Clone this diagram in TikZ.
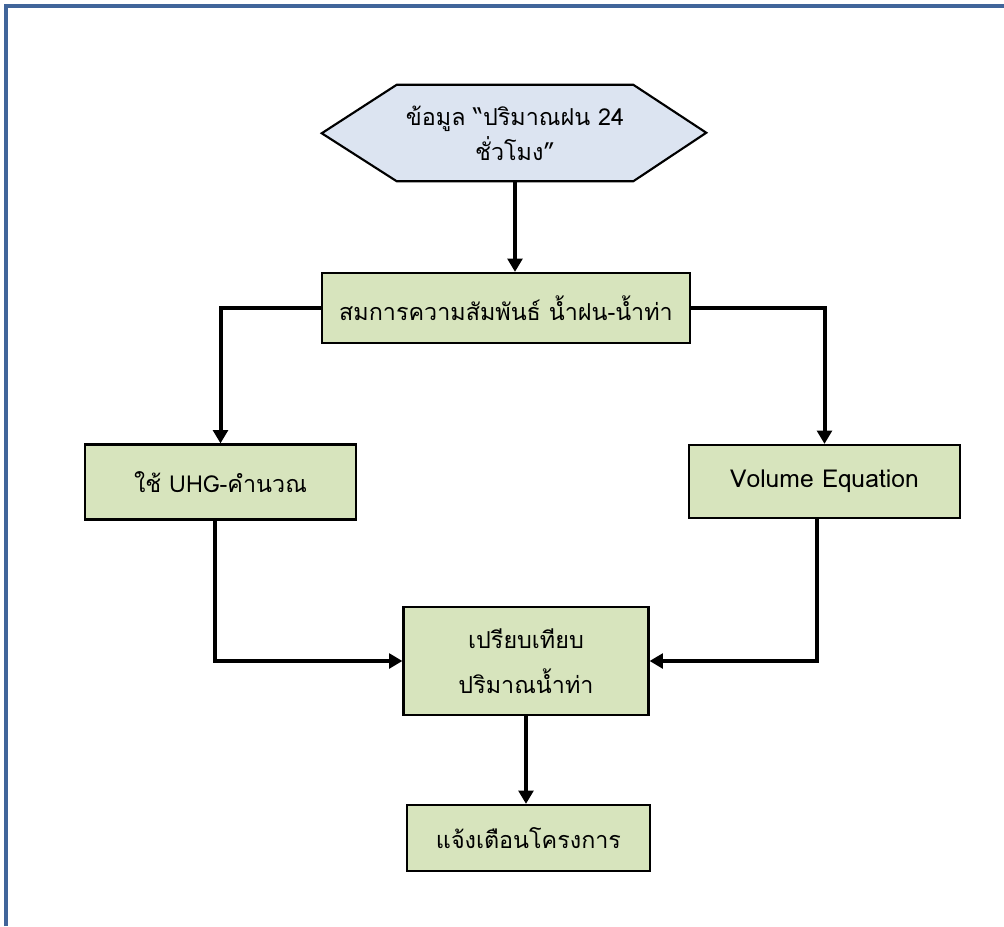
\documentclass[tikz,border=0pt]{standalone}
\usepackage{fontspec}
\newfontfamily\thaifont[Script=Thai]{Loma}
\usetikzlibrary{arrows.meta,backgrounds}
\definecolor{framec}{HTML}{41659A}
\definecolor{boxg}{HTML}{D7E4BD}
\definecolor{hexb}{HTML}{DCE4F1}
\tikzset{
  flowbox/.style={draw=black, line width=1.6pt, fill=boxg, inner sep=0pt, align=center,
    font=\thaifont\fontsize{17.5}{34}\selectfont},
  flowarrow/.style={line width=3pt, -{Triangle[length=10pt,width=11pt]}},
}
\begin{document}
\begin{tikzpicture}[x=0.75pt,y=-0.75pt]
\useasboundingbox (0,0) rectangle (1004,926);
\draw[framec, line width=2.3pt] (6,926) -- (6,6) -- (1004,6);

% hexagon text area
\node[inner sep=0pt, minimum width=236*0.75pt, minimum height=96*0.75pt, align=center,
      font=\thaifont\fontsize{17.5}{26}\selectfont] (hex) at (515,133)
  {ข้อมูล “ปริมาณฝน 24\\ชั่วโมง”};
\begin{scope}[on background layer]
\filldraw[fill=hexb, draw=black, line width=1.6pt, line join=miter]
  (hex.north west) -- (hex.north east) -- ++(73,48) -- (hex.south east)
  -- (hex.south west) -- ++(-75,-48) -- cycle;
\end{scope}

\node[flowbox, minimum width=368*0.75pt, minimum height=70*0.75pt] (b2) at (506,308)
  {สมการความสัมพันธ์ น้ำฝน-น้ำท่า};
\node[flowbox, minimum width=271*0.75pt, minimum height=75*0.75pt] (b3) at (220.5,482)
  {ใช้ UHG-คำนวณ};
\node[flowbox, minimum width=271*0.75pt, minimum height=73*0.75pt] (b4) at (824.5,481.5)
  {\fontsize{18.5}{34}\selectfont Volume Equation};
\node[flowbox, minimum width=245*0.75pt, minimum height=108*0.75pt] (b5) at (526,661)
  {เปรียบเทียบ\\ปริมาณน้ำท่า};
\node[flowbox, minimum width=243*0.75pt, minimum height=66*0.75pt] (b6) at (528.5,838)
  {แจ้งเตือนโครงการ};

\draw[flowarrow] (hex.south) -- (hex.south |- b2.north);
\draw[flowarrow] (b2.west) -| (b3.north);
\draw[flowarrow] (b2.east) -| (b4.north);
\draw[flowarrow] ([xshift=-4.5pt]b3.south) |- (b5.west);
\draw[flowarrow] ([xshift=-6pt]b4.south) |- (b5.east);
\draw[flowarrow] (b5.south) -- (b5.south |- b6.north);
\end{tikzpicture}
\end{document}
